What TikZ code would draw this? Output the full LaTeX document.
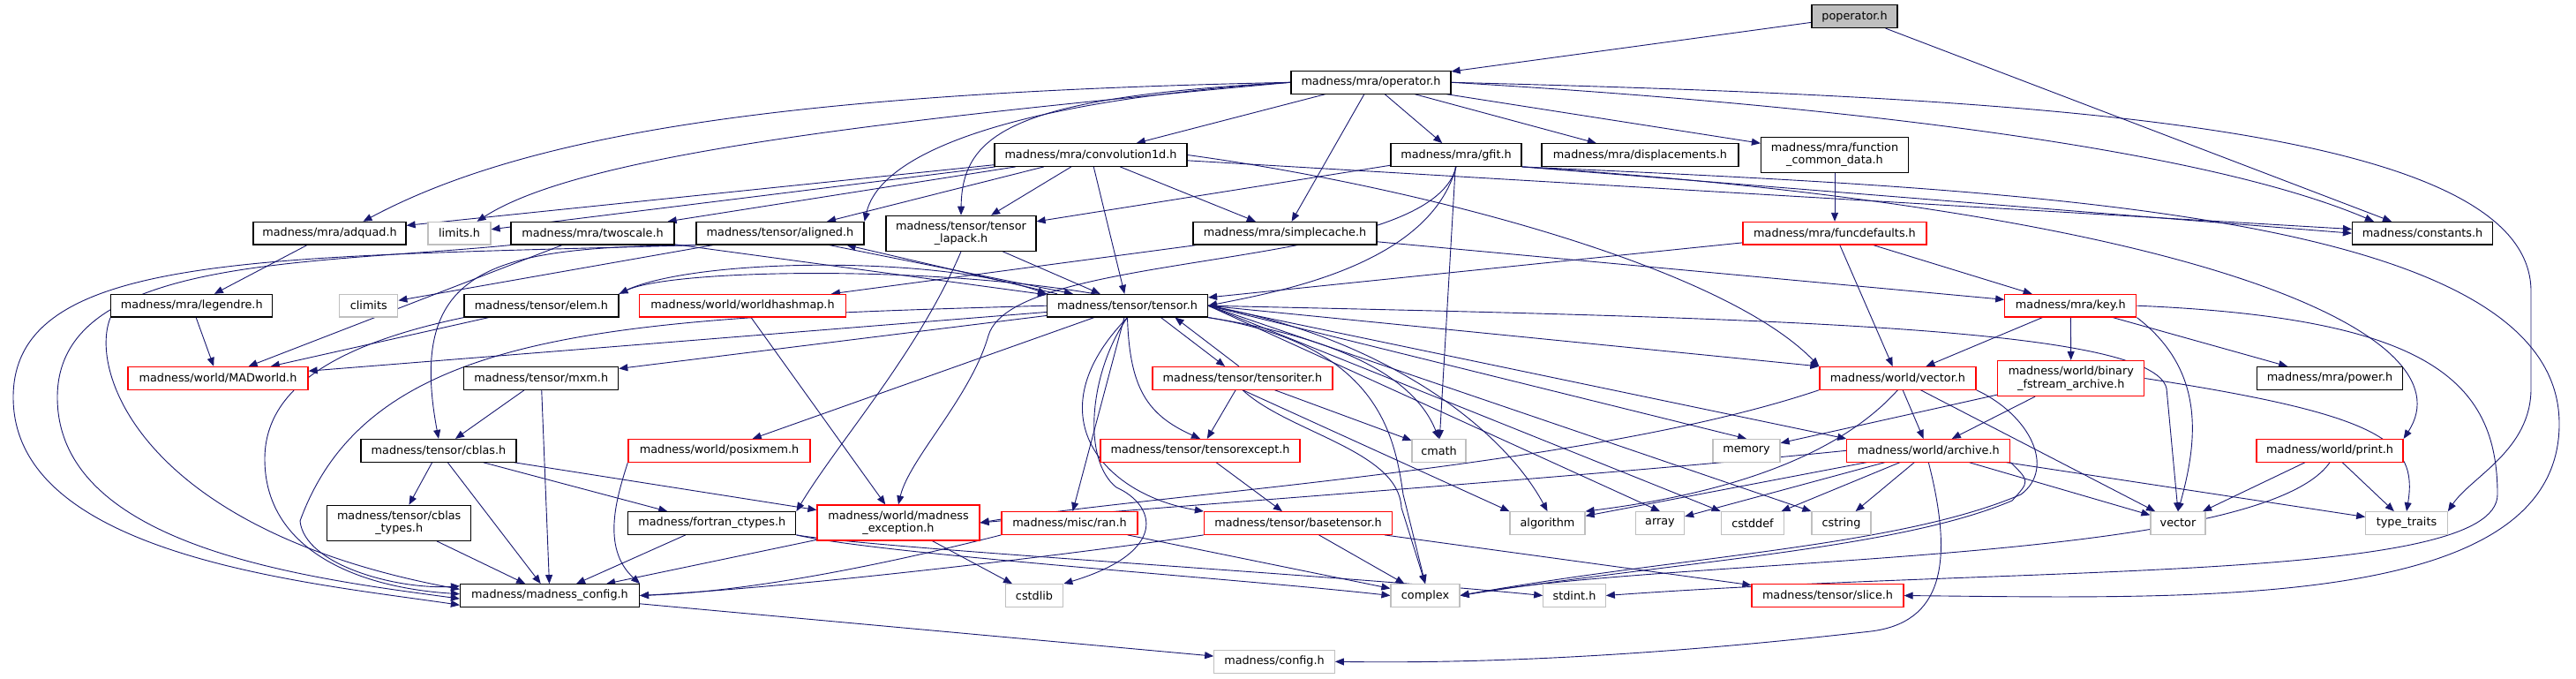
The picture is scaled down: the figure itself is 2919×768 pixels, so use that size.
\documentclass[tikz,border=0pt]{standalone}
\usepackage{fontspec}
\setmainfont{DejaVu Sans}
\usepackage{tikz}
\usetikzlibrary{arrows.meta,backgrounds}
\definecolor{edgeblue}{HTML}{191970}
\definecolor{rimred}{HTML}{FF0000}
\definecolor{rimgray}{HTML}{BFBFBF}
\definecolor{curfill}{HTML}{BFBFBF}
\tikzset{
  hdr/.style={draw=black,fill=white,line width=1.2pt,align=center,font=\fontsize{12.8}{14.5}\selectfont,inner xsep=4pt,inner ysep=0pt,minimum height=25.6pt},
  redhdr/.style={hdr,draw=rimred},
  syshdr/.style={hdr,draw=rimgray},
  curhdr/.style={hdr,fill=curfill},
  tall/.style={minimum height=40pt},
  dep/.style={-{Triangle[length=10pt,width=8pt]},line width=0.9pt,color=edgeblue}}
\begin{document}
\begin{tikzpicture}[x=1pt,y=1pt]
\useasboundingbox (0,0) rectangle (2919,-768);
% top rows
\node[curhdr,minimum width=97] (poperator) at (2101.5,-18.7) {poperator.h};
\node[hdr,minimum width=181] (operatorh) at (1553.5,-93.3) {madness/mra/operator.h};
\node[hdr,minimum width=218] (conv) at (1236,-175.5) {madness/mra/convolution1d.h};
\node[hdr,minimum width=148] (gfit) at (1650,-175.5) {madness/mra/gfit.h};
\node[hdr,minimum width=223] (displ) at (1858.5,-175.5) {madness/mra/displacements.h};
\node[hdr,tall,minimum width=167] (fcd) at (2079,-175.3) {madness/mra/function\\\_common\_data.h};
\node[hdr,minimum width=173] (adquad) at (373.5,-264.2) {madness/mra/adquad.h};
\node[syshdr,minimum width=71] (limits) at (520.5,-264.2) {limits.h};
\node[hdr,minimum width=185] (twoscale) at (671.5,-264.2) {madness/mra/twoscale.h};
\node[hdr,minimum width=190] (aligned) at (884,-264.2) {madness/tensor/aligned.h};
\node[hdr,tall,minimum width=170] (lapack) at (1089,-264.3) {madness/tensor/tensor\\\_lapack.h};
\node[hdr,minimum width=208] (scache) at (1456,-264.2) {madness/mra/simplecache.h};
\node[redhdr,minimum width=208] (funcdef) at (2079,-264.2) {madness/mra/funcdefaults.h};
\node[hdr,minimum width=159] (constants) at (2745,-264.2) {madness/constants.h};
% middle rows
\node[hdr,minimum width=183] (legendre) at (217.3,-346.2) {madness/mra/legendre.h};
\node[syshdr,minimum width=66] (climits) at (417.8,-346.2) {climits};
\node[hdr,minimum width=175] (elem) at (613.5,-346.2) {madness/tensor/elem.h};
\node[redhdr,minimum width=234] (whashmap) at (841.5,-346.2) {madness/world/worldhashmap.h};
\node[hdr,minimum width=182] (tensor) at (1277.5,-346.2) {madness/tensor/tensor.h};
\node[redhdr,minimum width=149] (key) at (2346.3,-346.2) {madness/mra/key.h};
\node[redhdr,minimum width=204] (madworld) at (247,-428.3) {madness/world/MADworld.h};
\node[hdr,minimum width=175] (mxm) at (613.2,-428.3) {madness/tensor/mxm.h};
\node[redhdr,minimum width=204] (titer) at (1408,-428.3) {madness/tensor/tensoriter.h};
\node[redhdr,minimum width=177] (wvector) at (2150.4,-428.3) {madness/world/vector.h};
\node[redhdr,tall,minimum width=166] (binfs) at (2346.8,-428.5) {madness/world/binary\\\_fstream\_archive.h};
\node[hdr,minimum width=165] (power) at (2640,-428.3) {madness/mra/power.h};
\node[hdr,minimum width=176] (cblas) at (497,-510.3) {madness/tensor/cblas.h};
\node[redhdr,minimum width=206] (posixmem) at (815,-510.3) {madness/world/posixmem.h};
\node[redhdr,minimum width=226] (texcept) at (1360,-510.3) {madness/tensor/tensorexcept.h};
\node[syshdr,minimum width=61] (cmath) at (1630.5,-510.3) {cmath};
\node[syshdr,minimum width=76] (memory) at (1979,-510.3) {memory};
\node[redhdr,minimum width=185] (archive) at (2185.3,-510.3) {madness/world/archive.h};
\node[redhdr,minimum width=166] (print) at (2640,-510.3) {madness/world/print.h};
% lower rows
\node[hdr,tall,minimum width=163] (cblastypes) at (452.2,-592.3) {madness/tensor/cblas\\\_types.h};
\node[hdr,minimum width=190] (fortran) at (806.8,-592.5) {madness/fortran\_ctypes.h};
\node[redhdr,tall,minimum width=184] (mexcept) at (1018,-592) {madness/world/madness\\\_exception.h};
\node[redhdr,minimum width=154] (ran) at (1212,-592.5) {madness/misc/ran.h};
\node[redhdr,minimum width=213] (basetensor) at (1471,-592.5) {madness/tensor/basetensor.h};
\node[syshdr,minimum width=85] (algorithm) at (1753.5,-592.5) {algorithm};
\node[syshdr,minimum width=55] (array) at (1881,-592.5) {array};
\node[syshdr,minimum width=71.5] (cstddef) at (1986,-592.5) {cstddef};
\node[syshdr,minimum width=67] (cstring) at (2086.5,-592.5) {cstring};
\node[syshdr,minimum width=62] (vector) at (2468,-592.5) {vector};
\node[syshdr,minimum width=92.5] (typetraits) at (2727,-592.5) {type\_traits};
\node[hdr,minimum width=203] (mconfig) at (623,-674.5) {madness/madness\_config.h};
\node[syshdr,minimum width=65.5] (cstdlib) at (1172,-674.5) {cstdlib};
\node[syshdr,minimum width=78] (complex) at (1615,-674.5) {complex};
\node[syshdr,minimum width=70.5] (stdint) at (1784,-674.5) {stdint.h};
\node[redhdr,minimum width=172] (slice) at (2071,-674.5) {madness/tensor/slice.h};
\node[syshdr,minimum width=136.5] (config) at (1444,-749.3) {madness/config.h};
\begin{scope}[on background layer]
\fill[white] (0,0) rectangle (2919,-768);
% poperator.h and operator.h
\draw[dep] (poperator) -- (operatorh); \draw[dep] (poperator) -- (constants);
\draw[dep] (operatorh.west) .. controls (900,-105) and (600,-150) .. ([xshift=38pt]adquad.north);
\draw[dep] (operatorh.west) .. controls (950,-140) and (650,-180) .. ([xshift=20pt]limits.north);
\draw[dep] (operatorh.west) .. controls (1200,-110) and (1000,-160) .. (aligned.north east);
\draw[dep] (operatorh.west) .. controls (1150,-110) and (1090,-150) .. (lapack.north);
\draw[dep] (operatorh) -- (conv); \draw[dep] (operatorh) -- (scache); \draw[dep] (operatorh) -- (gfit);
\draw[dep] (operatorh) -- (displ); \draw[dep] (operatorh) -- (fcd);
\draw[dep] (operatorh.east) .. controls (2100,-120) and (2500,-170) .. ([xshift=25pt]constants.north west);
\draw[dep] (operatorh.east) .. controls (2300,-110) and (2868,-140) .. (2868,-330) -- (2868,-440) .. controls (2868,-510) and (2800,-540) .. (typetraits.north east);
% convolution1d.h and gfit.h
\draw[dep] (conv) -- (adquad); \draw[dep] (conv) -- (limits); \draw[dep] (conv) -- (twoscale); \draw[dep] (conv) -- (aligned);
\draw[dep] (conv) -- (lapack); \draw[dep] (conv) -- (scache); \draw[dep] (conv) -- (tensor);
\draw[dep] (conv.east) .. controls (1600,-210) and (1950,-300) .. (wvector.north west); \draw[dep] (conv) -- (constants);
\draw[dep] (gfit) -- (lapack); \draw[dep] (gfit) -- (cmath); \draw[dep] (gfit.south east) -- (constants.west);
\draw[dep] (gfit.south) .. controls (1620,-300) and (1450,-330) .. (tensor.east);
\draw[dep] (gfit.south) .. controls (1620,-310) and (1150,-280) .. (1120,-380) .. controls (1100,-450) and (1030,-520) .. (mexcept.north);
\draw[dep] (gfit.south east) .. controls (2500,-240) and (2800,-380) .. (print.north east);
\draw[dep] (gfit.south east) .. controls (2300,-215) and (2900,-240) .. (2900,-480) .. controls (2900,-690) and (2500,-678) .. (slice.east);
% second row
\draw[dep] (fcd) -- (funcdef);
\draw[dep] (funcdef) -- (key); \draw[dep] (funcdef) -- (wvector); \draw[dep] (funcdef) -- (tensor);
\draw[dep] (scache) -- (whashmap); \draw[dep] (scache) -- (key);
\draw[dep] (adquad) -- (legendre);
\draw[dep] (twoscale) -- (tensor); \draw[dep] (twoscale) -- (madworld);
\draw[dep] (twoscale.south west) .. controls (350,-300) and (65,-290) .. (65,-450) .. controls (65,-620) and (350,-655) .. (mconfig.182);
\draw[dep] ([xshift=-40pt]aligned.south east) -- ([xshift=30pt]tensor.north west);
\draw[dep] ([xshift=12pt]tensor.north west) -- ([xshift=-20pt]aligned.south east);
\draw[dep] (aligned) -- (climits);
\draw[dep] (aligned.south west) .. controls (560,-280) and (460,-300) .. (cblas.north);
\draw[dep] (aligned.south west) .. controls (300,-292) and (15,-285) .. (15,-450) .. controls (15,-630) and (350,-660) .. (mconfig.186);
\draw[dep] (lapack) -- (tensor);
\draw[dep] (lapack.south) .. controls (1040,-400) and (950,-500) .. (fortran.north east);
% third row
\draw[dep] (legendre) -- (madworld);
\draw[dep] (legendre.south west) .. controls (100,-420) and (160,-600) .. (mconfig.176);
\draw[dep] (elem) -- (madworld);
\draw[dep] (elem.south west) .. controls (380,-390) and (300,-440) .. (300,-520) .. controls (300,-620) and (400,-665) .. (mconfig.179);
\draw[dep] (elem.north east) .. controls (770,-292) and (1060,-288) .. (tensor.north west);
\draw[dep] (tensor.160) .. controls (1050,-300) and (760,-305) .. (elem.north east);
\draw[dep] (whashmap) -- (mexcept);
% tensor.h
\draw[dep] (tensor) -- (madworld); \draw[dep] (tensor) -- (mxm); \draw[dep] (tensor) -- (posixmem); \draw[dep] (tensor) -- (ran);
\draw[dep] (tensor.west) .. controls (700,-360) and (420,-370) .. (340,-590) .. controls (345,-640) and (450,-668) .. (mconfig.174);
\draw[dep] ([xshift=38pt]tensor.south) -- ([xshift=-20pt]titer.north);
\draw[dep] ([xshift=-4pt]titer.north) -- ([xshift=54pt]tensor.south);
\draw[dep] (tensor.south) .. controls (1280,-440) and (1300,-470) .. (texcept.north);
\draw[dep] (tensor.south) .. controls (1170,-470) and (1250,-560) .. (basetensor.north west);
\draw[dep] (tensor.south) .. controls (1235,-420) and (1225,-520) .. (1265,-552) .. controls (1310,-572) and (1325,-625) .. (cstdlib.north east);
\draw[dep] (tensor.south east) .. controls (1500,-380) and (1600,-420) .. (cmath.north);
\draw[dep] (tensor.south east) .. controls (1560,-390) and (1580,-490) .. (1590,-560) -- (complex.north);
\draw[dep] (tensor.east) .. controls (1560,-380) and (1700,-480) .. (algorithm.north);
\draw[dep] (tensor.east) -- (array.north); \draw[dep] (tensor.east) -- (cstddef.north west); \draw[dep] (tensor.east) -- (cstring.north west);
\draw[dep] (tensor.east) -- (memory.north); \draw[dep] (tensor.east) -- (wvector.north west); \draw[dep] (tensor.east) -- (archive.north west);
\draw[dep] (tensor.east) .. controls (2000,-360) and (2440,-370) .. (2455,-440) -- (vector.north);
% tensoriter.h
\draw[dep] (titer) -- (texcept); \draw[dep] (titer) -- (cmath); \draw[dep] (titer.south) -- (algorithm.north west);
\draw[dep] (titer.south) .. controls (1460,-490) and (1585,-510) .. (1588,-575) -- (complex.north);
% key.h and world headers
\draw[dep] (key) -- (wvector); \draw[dep] (key) -- (binfs); \draw[dep] (key) -- (power);
\draw[dep] (key.south east) .. controls (2500,-420) and (2490,-500) .. (vector.north);
\draw[dep] (key.east) .. controls (2750,-360) and (2830,-430) .. (2830,-560) .. controls (2830,-660) and (2300,-640) .. (stdint.east);
\draw[dep] (binfs) -- (archive); \draw[dep] (binfs) -- (memory);
\draw[dep] (binfs.east) .. controls (2700,-470) and (2740,-500) .. (typetraits.north);
\draw[dep] (wvector) -- (archive); \draw[dep] (wvector) -- (vector);
\draw[dep] (wvector.south) .. controls (2080,-520) and (1950,-560) .. (algorithm.north east);
\draw[dep] (wvector.south west) .. controls (1800,-530) and (1300,-560) .. (mexcept.east);
\draw[dep] (wvector.south east) .. controls (2300,-470) and (2330,-530) .. (2290,-560) .. controls (2150,-620) and (1900,-630) .. (complex.east);
\draw[dep] (archive.west) .. controls (1800,-540) and (1300,-575) .. (mexcept.east);
\draw[dep] (archive) -- (algorithm); \draw[dep] (archive) -- (array); \draw[dep] (archive) -- (cstddef); \draw[dep] (archive) -- (cstring);
\draw[dep] (archive) -- (vector); \draw[dep] (archive) -- (typetraits);
\draw[dep] (archive.south east) .. controls (2300,-545) .. (2280,-567) .. controls (2150,-622) and (1900,-636) .. (complex.east);
\draw[dep] (archive.south) .. controls (2215,-640) and (2200,-705) .. (2120,-715) .. controls (1900,-740) and (1700,-752) .. (config.east);
\draw[dep] (print) -- (vector); \draw[dep] (print) -- (typetraits);
\draw[dep] (print.south) .. controls (2560,-640) and (1900,-630) .. (complex.east);
% lower rows
\draw[dep] (mxm) -- (cblas); \draw[dep] (mxm) -- (mconfig);
\draw[dep] (cblas) -- (cblastypes); \draw[dep] (cblas) -- (mconfig); \draw[dep] (cblas) -- (fortran); \draw[dep] (cblas) -- (mexcept);
\draw[dep] (posixmem.south west) .. controls (700,-560) and (680,-620) .. (mconfig.north east);
\draw[dep] (cblastypes) -- (mconfig);
\draw[dep] (fortran) -- (mconfig);
\draw[dep] (fortran.south east) .. controls (1000,-628) and (1400,-655) .. (complex.west);
\draw[dep] (fortran.south east) .. controls (1000,-622) and (1500,-650) .. (stdint.west);
\draw[dep] (mexcept) -- (mconfig); \draw[dep] (mexcept) -- (cstdlib);
\draw[dep] (ran.south west) .. controls (1000,-640) and (850,-670) .. (mconfig.east); \draw[dep] (ran) -- (complex);
\draw[dep] (texcept) -- (basetensor);
\draw[dep] (basetensor.south west) .. controls (1200,-630) and (900,-665) .. (mconfig.east); \draw[dep] (basetensor) -- (complex); \draw[dep] (basetensor) -- (slice);
\draw[dep] (mconfig) -- (config);
\end{scope}
\end{tikzpicture}
\end{document}
